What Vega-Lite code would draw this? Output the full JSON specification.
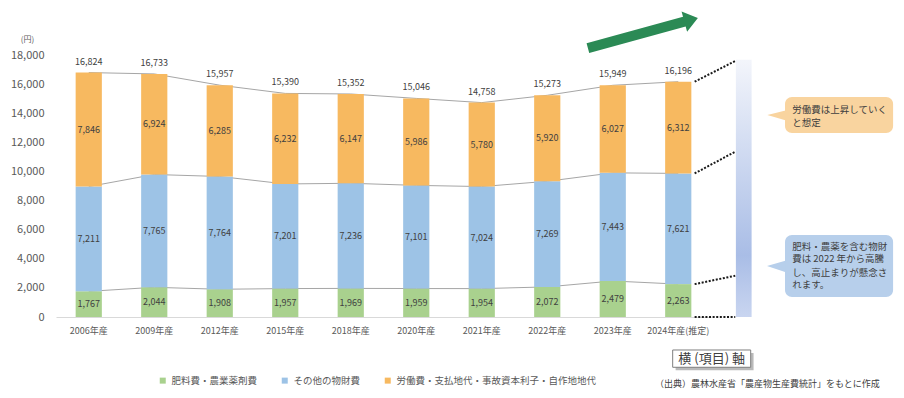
{
  "$schema": "https://vega.github.io/schema/vega-lite/v6.json",
  "width": 655,
  "height": 261.5,
  "autosize": {"type": "none"},
  "padding": {"left": 56, "top": 55.5, "right": 193, "bottom": 81},
  "background": "white",
  "config": {
    "view": {"stroke": null},
    "font": "Noto Sans CJK JP",
    "axis": {"grid": false, "ticks": false},
    "axisX": {"labelAngle": 0, "labelFontSize": 9, "labelColor": "#595959", "labelPadding": 9, "domainColor": "#d9d9d9", "domainWidth": 1},
    "axisY": {"domain": false, "labelFontSize": 11, "labelColor": "#595959", "labelPadding": 12, "titleAngle": 0, "titleFontSize": 8, "titleFontWeight": "normal", "titleColor": "#595959", "titleX": -29, "titleY": -16, "titleAlign": "center", "titleBaseline": "middle"}
  },
  "datasets": {
    "costs": [
      {"year": "2006年産", "item": "肥料費・農業薬剤費", "s": 1, "value": 1767},
      {"year": "2009年産", "item": "肥料費・農業薬剤費", "s": 1, "value": 2044},
      {"year": "2012年産", "item": "肥料費・農業薬剤費", "s": 1, "value": 1908},
      {"year": "2015年産", "item": "肥料費・農業薬剤費", "s": 1, "value": 1957},
      {"year": "2018年産", "item": "肥料費・農業薬剤費", "s": 1, "value": 1969},
      {"year": "2020年産", "item": "肥料費・農業薬剤費", "s": 1, "value": 1959},
      {"year": "2021年産", "item": "肥料費・農業薬剤費", "s": 1, "value": 1954},
      {"year": "2022年産", "item": "肥料費・農業薬剤費", "s": 1, "value": 2072},
      {"year": "2023年産", "item": "肥料費・農業薬剤費", "s": 1, "value": 2479},
      {"year": "2024年産(推定)", "item": "肥料費・農業薬剤費", "s": 1, "value": 2263},
      {"year": "2006年産", "item": "その他の物財費", "s": 2, "value": 7211},
      {"year": "2009年産", "item": "その他の物財費", "s": 2, "value": 7765},
      {"year": "2012年産", "item": "その他の物財費", "s": 2, "value": 7764},
      {"year": "2015年産", "item": "その他の物財費", "s": 2, "value": 7201},
      {"year": "2018年産", "item": "その他の物財費", "s": 2, "value": 7236},
      {"year": "2020年産", "item": "その他の物財費", "s": 2, "value": 7101},
      {"year": "2021年産", "item": "その他の物財費", "s": 2, "value": 7024},
      {"year": "2022年産", "item": "その他の物財費", "s": 2, "value": 7269},
      {"year": "2023年産", "item": "その他の物財費", "s": 2, "value": 7443},
      {"year": "2024年産(推定)", "item": "その他の物財費", "s": 2, "value": 7621},
      {"year": "2006年産", "item": "労働費・支払地代・事故資本利子・自作地地代", "s": 3, "value": 7846},
      {"year": "2009年産", "item": "労働費・支払地代・事故資本利子・自作地地代", "s": 3, "value": 6924},
      {"year": "2012年産", "item": "労働費・支払地代・事故資本利子・自作地地代", "s": 3, "value": 6285},
      {"year": "2015年産", "item": "労働費・支払地代・事故資本利子・自作地地代", "s": 3, "value": 6232},
      {"year": "2018年産", "item": "労働費・支払地代・事故資本利子・自作地地代", "s": 3, "value": 6147},
      {"year": "2020年産", "item": "労働費・支払地代・事故資本利子・自作地地代", "s": 3, "value": 5986},
      {"year": "2021年産", "item": "労働費・支払地代・事故資本利子・自作地地代", "s": 3, "value": 5780},
      {"year": "2022年産", "item": "労働費・支払地代・事故資本利子・自作地地代", "s": 3, "value": 5920},
      {"year": "2023年産", "item": "労働費・支払地代・事故資本利子・自作地地代", "s": 3, "value": 6027},
      {"year": "2024年産(推定)", "item": "労働費・支払地代・事故資本利子・自作地地代", "s": 3, "value": 6312}
    ],
    "totals": [
      {"year": "2006年産", "total": 16824},
      {"year": "2009年産", "total": 16733},
      {"year": "2012年産", "total": 15957},
      {"year": "2015年産", "total": 15390},
      {"year": "2018年産", "total": 15352},
      {"year": "2020年産", "total": 15046},
      {"year": "2021年産", "total": 14758},
      {"year": "2022年産", "total": 15273},
      {"year": "2023年産", "total": 15949},
      {"year": "2024年産(推定)", "total": 16196}
    ]
  },
  "layer": [
    {
      "encoding": {
        "x": {
          "field": "year", "type": "nominal", "sort": null, "title": null,
          "scale": {"domain": ["2006年産", "2009年産", "2012年産", "2015年産", "2018年産", "2020年産", "2021年産", "2022年産", "2023年産", "2024年産(推定)"], "paddingInner": 0.6, "paddingOuter": 0.3}
        }
      },
      "layer": [
        {
          "data": {"name": "costs"},
          "transform": [{"stack": "value", "groupby": ["year"], "sort": [{"field": "s", "order": "ascending"}], "as": ["v0", "v1"]}],
          "mark": {"type": "line", "color": "#a6a6a6", "strokeWidth": 1},
          "encoding": {
            "y": {"field": "v1", "type": "quantitative", "title": "(円)", "scale": {"domain": [0, 18000], "nice": false, "zero": false}, "axis": {"values": [0, 2000, 4000, 6000, 8000, 10000, 12000, 14000, 16000, 18000], "format": ",d"}},
            "detail": {"field": "item"}
          }
        },
        {
          "data": {"name": "costs"},
          "transform": [{"stack": "value", "groupby": ["year"], "sort": [{"field": "s", "order": "ascending"}], "as": ["v0", "v1"]}],
          "mark": {"type": "bar"},
          "encoding": {
            "y": {"field": "v0", "type": "quantitative", "title": "(円)", "scale": {"domain": [0, 18000], "nice": false, "zero": false}, "axis": {"values": [0, 2000, 4000, 6000, 8000, 10000, 12000, 14000, 16000, 18000], "format": ",d"}},
            "y2": {"field": "v1"},
            "color": {
              "field": "item", "type": "nominal",
              "scale": {"domain": ["肥料費・農業薬剤費", "その他の物財費", "労働費・支払地代・事故資本利子・自作地地代"], "range": ["#a9d18e", "#9dc3e6", "#f7b960"]},
              "legend": {"title": null, "orient": "none", "legendX": 102, "legendY": 320, "direction": "horizontal", "symbolType": "square", "symbolSize": 36, "labelFontSize": 9.5, "labelColor": "#595959", "labelLimit": 400, "columnPadding": 22, "labelOffset": 4}
            }
          }
        },
        {
          "data": {"name": "costs"},
          "transform": [
            {"stack": "value", "groupby": ["year"], "sort": [{"field": "s", "order": "ascending"}], "as": ["v0", "v1"]},
            {"calculate": "(datum.v0 + datum.v1) / 2", "as": "mid"}
          ],
          "mark": {"type": "text", "fontSize": 9, "color": "#404040", "baseline": "middle"},
          "encoding": {
            "y": {"field": "mid", "type": "quantitative", "title": "(円)", "scale": {"domain": [0, 18000], "nice": false, "zero": false}, "axis": {"values": [0, 2000, 4000, 6000, 8000, 10000, 12000, 14000, 16000, 18000], "format": ",d"}},
            "text": {"field": "value", "type": "quantitative", "format": ",d"}
          }
        },
        {
          "data": {"name": "totals"},
          "mark": {"type": "text", "fontSize": 9, "color": "#404040", "baseline": "bottom", "dy": -6},
          "encoding": {
            "y": {"field": "total", "type": "quantitative", "title": "(円)", "scale": {"domain": [0, 18000], "nice": false, "zero": false}, "axis": {"values": [0, 2000, 4000, 6000, 8000, 10000, 12000, 14000, 16000, 18000], "format": ",d"}},
            "text": {"field": "total", "type": "quantitative", "format": ",d"}
          }
        }
      ]
    },
    {
      "layer": [
        {
          "data": {"values": [{"x0": 10.38, "x1": 10.62, "y0": 0, "y1": 17700}]},
          "mark": {"type": "rect", "fill": {"gradient": "linear", "x1": 0, "y1": 0, "x2": 0, "y2": 1, "stops": [{"offset": 0, "color": "#f3f5fb"}, {"offset": 0.76, "color": "#a9bde6"}, {"offset": 1, "color": "#c9d5f0"}]}},
          "encoding": {
            "x": {"field": "x0", "type": "quantitative", "scale": {"domain": [0, 10], "nice": false, "zero": false}, "axis": null},
            "x2": {"field": "x1"},
            "y": {"field": "y0", "type": "quantitative", "scale": {"domain": [0, 18000], "nice": false, "zero": false}, "axis": null},
            "y2": {"field": "y1"}
          }
        },
        {
          "data": {"values": [
            {"xa": 9.75, "xb": 10.37, "ya": 16196, "yb": 17620},
            {"xa": 9.75, "xb": 10.37, "ya": 9884, "yb": 11380},
            {"xa": 9.75, "xb": 10.37, "ya": 2263, "yb": 2840},
            {"xa": 9.75, "xb": 10.37, "ya": 0, "yb": 0}
          ]},
          "mark": {"type": "rule", "color": "#1a1a1a", "strokeWidth": 2, "strokeDash": [2, 1.6]},
          "encoding": {
            "x": {"field": "xa", "type": "quantitative", "scale": {"domain": [0, 10], "nice": false, "zero": false}, "axis": null},
            "x2": {"field": "xb"},
            "y": {"field": "ya", "type": "quantitative", "scale": {"domain": [0, 18000], "nice": false, "zero": false}, "axis": null},
            "y2": {"field": "yb"}
          }
        },
        {
          "data": {"values": [{"x": 8.96, "y": 19548}]},
          "mark": {"type": "point", "shape": "M-1,-0.088L0.754,-0.088L0.754,-0.184L1,0L0.754,0.184L0.754,0.088L-1,0.088Z", "filled": true, "opacity": 1, "size": 12996, "angle": 344.7, "color": "#2b8a55"},
          "encoding": {
            "x": {"field": "x", "type": "quantitative", "scale": {"domain": [0, 10], "nice": false, "zero": false}, "axis": null},
            "y": {"field": "y", "type": "quantitative", "scale": {"domain": [0, 18000], "nice": false, "zero": false}, "axis": null}
          }
        },
        {
          "data": {"values": [{"x": 10.86, "y": 13904, "y2": 13904}, {"x": 11.2, "y": 14283, "y2": 13457}]},
          "mark": {"type": "area", "color": "#f9d49f"},
          "encoding": {
            "x": {"field": "x", "type": "quantitative", "scale": {"domain": [0, 10], "nice": false, "zero": false}, "axis": null},
            "y": {"field": "y", "type": "quantitative", "stack": null, "scale": {"domain": [0, 18000], "nice": false, "zero": false}, "axis": null},
            "y2": {"field": "y2"}
          }
        },
        {
          "data": {"values": [{"x": 10.855, "y": 3510, "y2": 3510}, {"x": 11.2, "y": 3958, "y2": 2994}]},
          "mark": {"type": "area", "color": "#b7cfeb"},
          "encoding": {
            "x": {"field": "x", "type": "quantitative", "scale": {"domain": [0, 10], "nice": false, "zero": false}, "axis": null},
            "y": {"field": "y", "type": "quantitative", "stack": null, "scale": {"domain": [0, 18000], "nice": false, "zero": false}, "axis": null},
            "y2": {"field": "y2"}
          }
        },
        {
          "data": {"values": [{"x0": 11.13, "x1": 12.78, "y0": 12665, "y1": 15143}]},
          "mark": {"type": "rect", "color": "#f9d49f", "cornerRadius": 7},
          "encoding": {
            "x": {"field": "x0", "type": "quantitative", "scale": {"domain": [0, 10], "nice": false, "zero": false}, "axis": null},
            "x2": {"field": "x1"},
            "y": {"field": "y0", "type": "quantitative", "scale": {"domain": [0, 18000], "nice": false, "zero": false}, "axis": null},
            "y2": {"field": "y1"}
          }
        },
        {
          "data": {"values": [{"x0": 11.13, "x1": 12.78, "y0": 1377, "y1": 5644}]},
          "mark": {"type": "rect", "color": "#b7cfeb", "cornerRadius": 7},
          "encoding": {
            "x": {"field": "x0", "type": "quantitative", "scale": {"domain": [0, 10], "nice": false, "zero": false}, "axis": null},
            "x2": {"field": "x1"},
            "y": {"field": "y0", "type": "quantitative", "scale": {"domain": [0, 18000], "nice": false, "zero": false}, "axis": null},
            "y2": {"field": "y1"}
          }
        },
        {
          "data": {"values": [
            {"x": 11.24, "y": 14248, "t": "労働費は上昇していく"},
            {"x": 11.24, "y": 13388, "t": "と想定"},
            {"x": 11.24, "y": 4839, "t": "肥料・農薬を含む物財"},
            {"x": 11.24, "y": 3972, "t": "費は 2022 年から高騰"},
            {"x": 11.24, "y": 3049, "t": "し、高止まりが懸念さ"},
            {"x": 11.24, "y": 2203, "t": "れます。"}
          ]},
          "mark": {"type": "text", "align": "left", "baseline": "middle", "fontSize": 9.5, "color": "#404040"},
          "encoding": {
            "x": {"field": "x", "type": "quantitative", "scale": {"domain": [0, 10], "nice": false, "zero": false}, "axis": null},
            "y": {"field": "y", "type": "quantitative", "scale": {"domain": [0, 18000], "nice": false, "zero": false}, "axis": null},
            "text": {"field": "t"}
          }
        },
        {
          "data": {"values": [{"x0": 9.46, "x1": 10.65, "y0": -2478, "y1": -3669}]},
          "mark": {"type": "rect", "color": "#8c8c8c", "opacity": 0.6},
          "encoding": {
            "x": {"field": "x0", "type": "quantitative", "scale": {"domain": [0, 10], "nice": false, "zero": false}, "axis": null},
            "x2": {"field": "x1"},
            "y": {"field": "y0", "type": "quantitative", "scale": {"domain": [0, 18000], "nice": false, "zero": false}, "axis": null},
            "y2": {"field": "y1"}
          }
        },
        {
          "data": {"values": [{"x0": 9.415, "x1": 10.606, "y0": -2271, "y1": -3462}]},
          "mark": {"type": "rect", "fill": "white", "stroke": "#7f7f7f", "strokeWidth": 1},
          "encoding": {
            "x": {"field": "x0", "type": "quantitative", "scale": {"domain": [0, 10], "nice": false, "zero": false}, "axis": null},
            "x2": {"field": "x1"},
            "y": {"field": "y0", "type": "quantitative", "scale": {"domain": [0, 18000], "nice": false, "zero": false}, "axis": null},
            "y2": {"field": "y1"}
          }
        },
        {
          "data": {"values": [
            {"x": 10.01, "y": -2870, "t": "横 (項目) 軸"}
          ]},
          "mark": {"type": "text", "align": "center", "baseline": "middle", "fontSize": 13, "color": "#404040"},
          "encoding": {
            "x": {"field": "x", "type": "quantitative", "scale": {"domain": [0, 10], "nice": false, "zero": false}, "axis": null},
            "y": {"field": "y", "type": "quantitative", "scale": {"domain": [0, 18000], "nice": false, "zero": false}, "axis": null},
            "text": {"field": "t"}
          }
        },
        {
          "data": {"values": [
            {"x": 9.145, "y": -4612, "t": "（出典）農林水産省「農産物生産費統計」をもとに作成"}
          ]},
          "mark": {"type": "text", "align": "left", "baseline": "middle", "fontSize": 9, "color": "#404040"},
          "encoding": {
            "x": {"field": "x", "type": "quantitative", "scale": {"domain": [0, 10], "nice": false, "zero": false}, "axis": null},
            "y": {"field": "y", "type": "quantitative", "scale": {"domain": [0, 18000], "nice": false, "zero": false}, "axis": null},
            "text": {"field": "t"}
          }
        }
      ]
    }
  ],
  "resolve": {"scale": {"x": "independent", "y": "independent"}}
}
